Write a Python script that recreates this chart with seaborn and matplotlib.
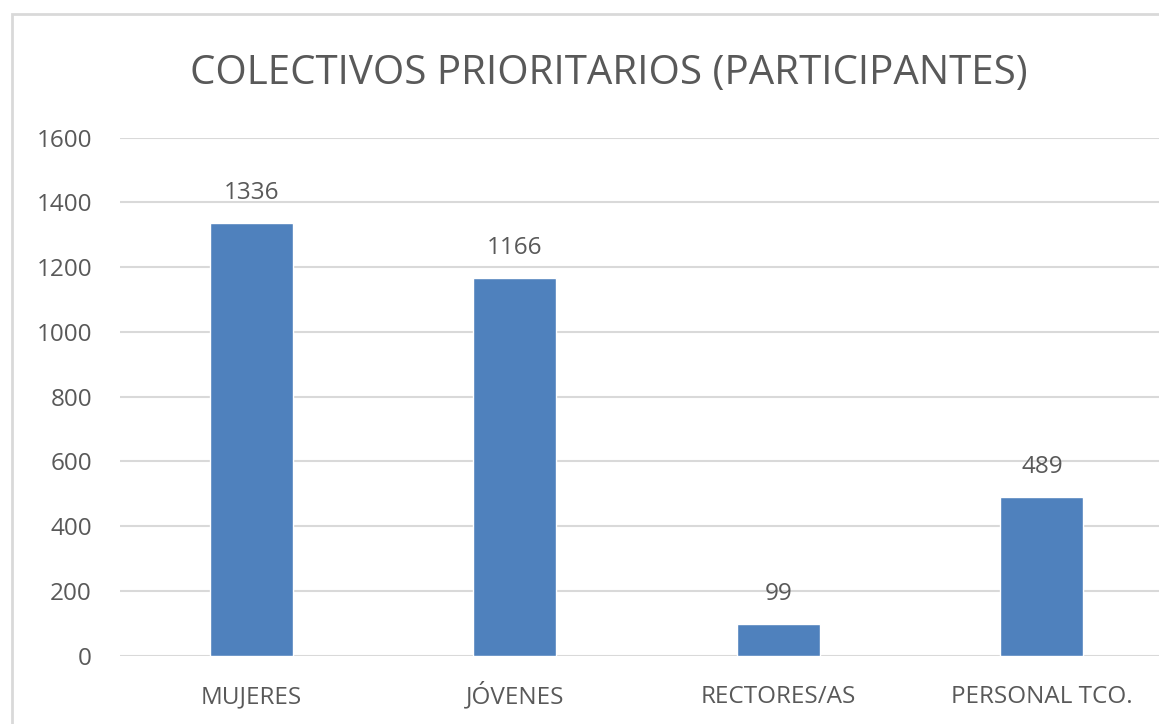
import pandas as pd
import matplotlib
matplotlib.use("Agg")
import matplotlib.pyplot as plt
import seaborn as sns
from matplotlib.patches import Rectangle

# --------------------------
# DATA
# --------------------------
categories = ["MUJERES", "JÓVENES", "RECTORES/AS", "PERSONAL TCO."]
participants = [1336, 1166, 99, 489]
y_ticks = [0, 200, 400, 600, 800, 1000, 1200, 1400, 1600]

df = pd.DataFrame({"colectivo": categories, "participantes": participants})

sns.set_style("white")
plt.rcParams["font.family"] = ["Open Sans", "DejaVu Sans"]

text_color = "#595959"
grid_color = "#d9d9d9"
bar_color = "#4f81bd"

fig = plt.figure(figsize=(11.59, 7.24), dpi=100)
ax = fig.add_axes([0.1033, 0.0943, 0.9094, 0.7155])

sns.barplot(
    data=df,
    x="colectivo",
    y="participantes",
    color=bar_color,
    width=0.315,
    saturation=1,
    ax=ax
)

ax.set_ylim(0, 1600)
ax.set_yticks(y_ticks)
ax.set_xlim(-0.5, len(categories) - 0.5)
ax.yaxis.grid(True, color=grid_color, linewidth=1.5)
ax.set_axisbelow(True)
for s in ax.spines.values():
    s.set_visible(False)

ax.set_xlabel("")
ax.set_ylabel("")
ax.tick_params(axis="both", length=0, labelsize=17.5, colors=text_color)
ax.tick_params(axis="y", pad=20)
ax.tick_params(axis="x", pad=34)
for lbl in ax.get_xticklabels():
    lbl.set_verticalalignment("baseline")

ax.bar_label(ax.containers[0], fontsize=17.5, color=text_color, padding=13)

fig.text(0.525, 1 - 84 / 724, "COLECTIVOS PRIORITARIOS (PARTICIPANTES)",
         ha="center", va="baseline", fontsize=29, color=text_color)

# chart border
fig.add_artist(Rectangle((12 / 1159, -0.1), 1.2, 1 - 14 / 724 + 0.1,
                         transform=fig.transFigure, fill=False,
                         edgecolor=grid_color, linewidth=2))

fig.savefig("out.png", dpi=100, facecolor="white")
